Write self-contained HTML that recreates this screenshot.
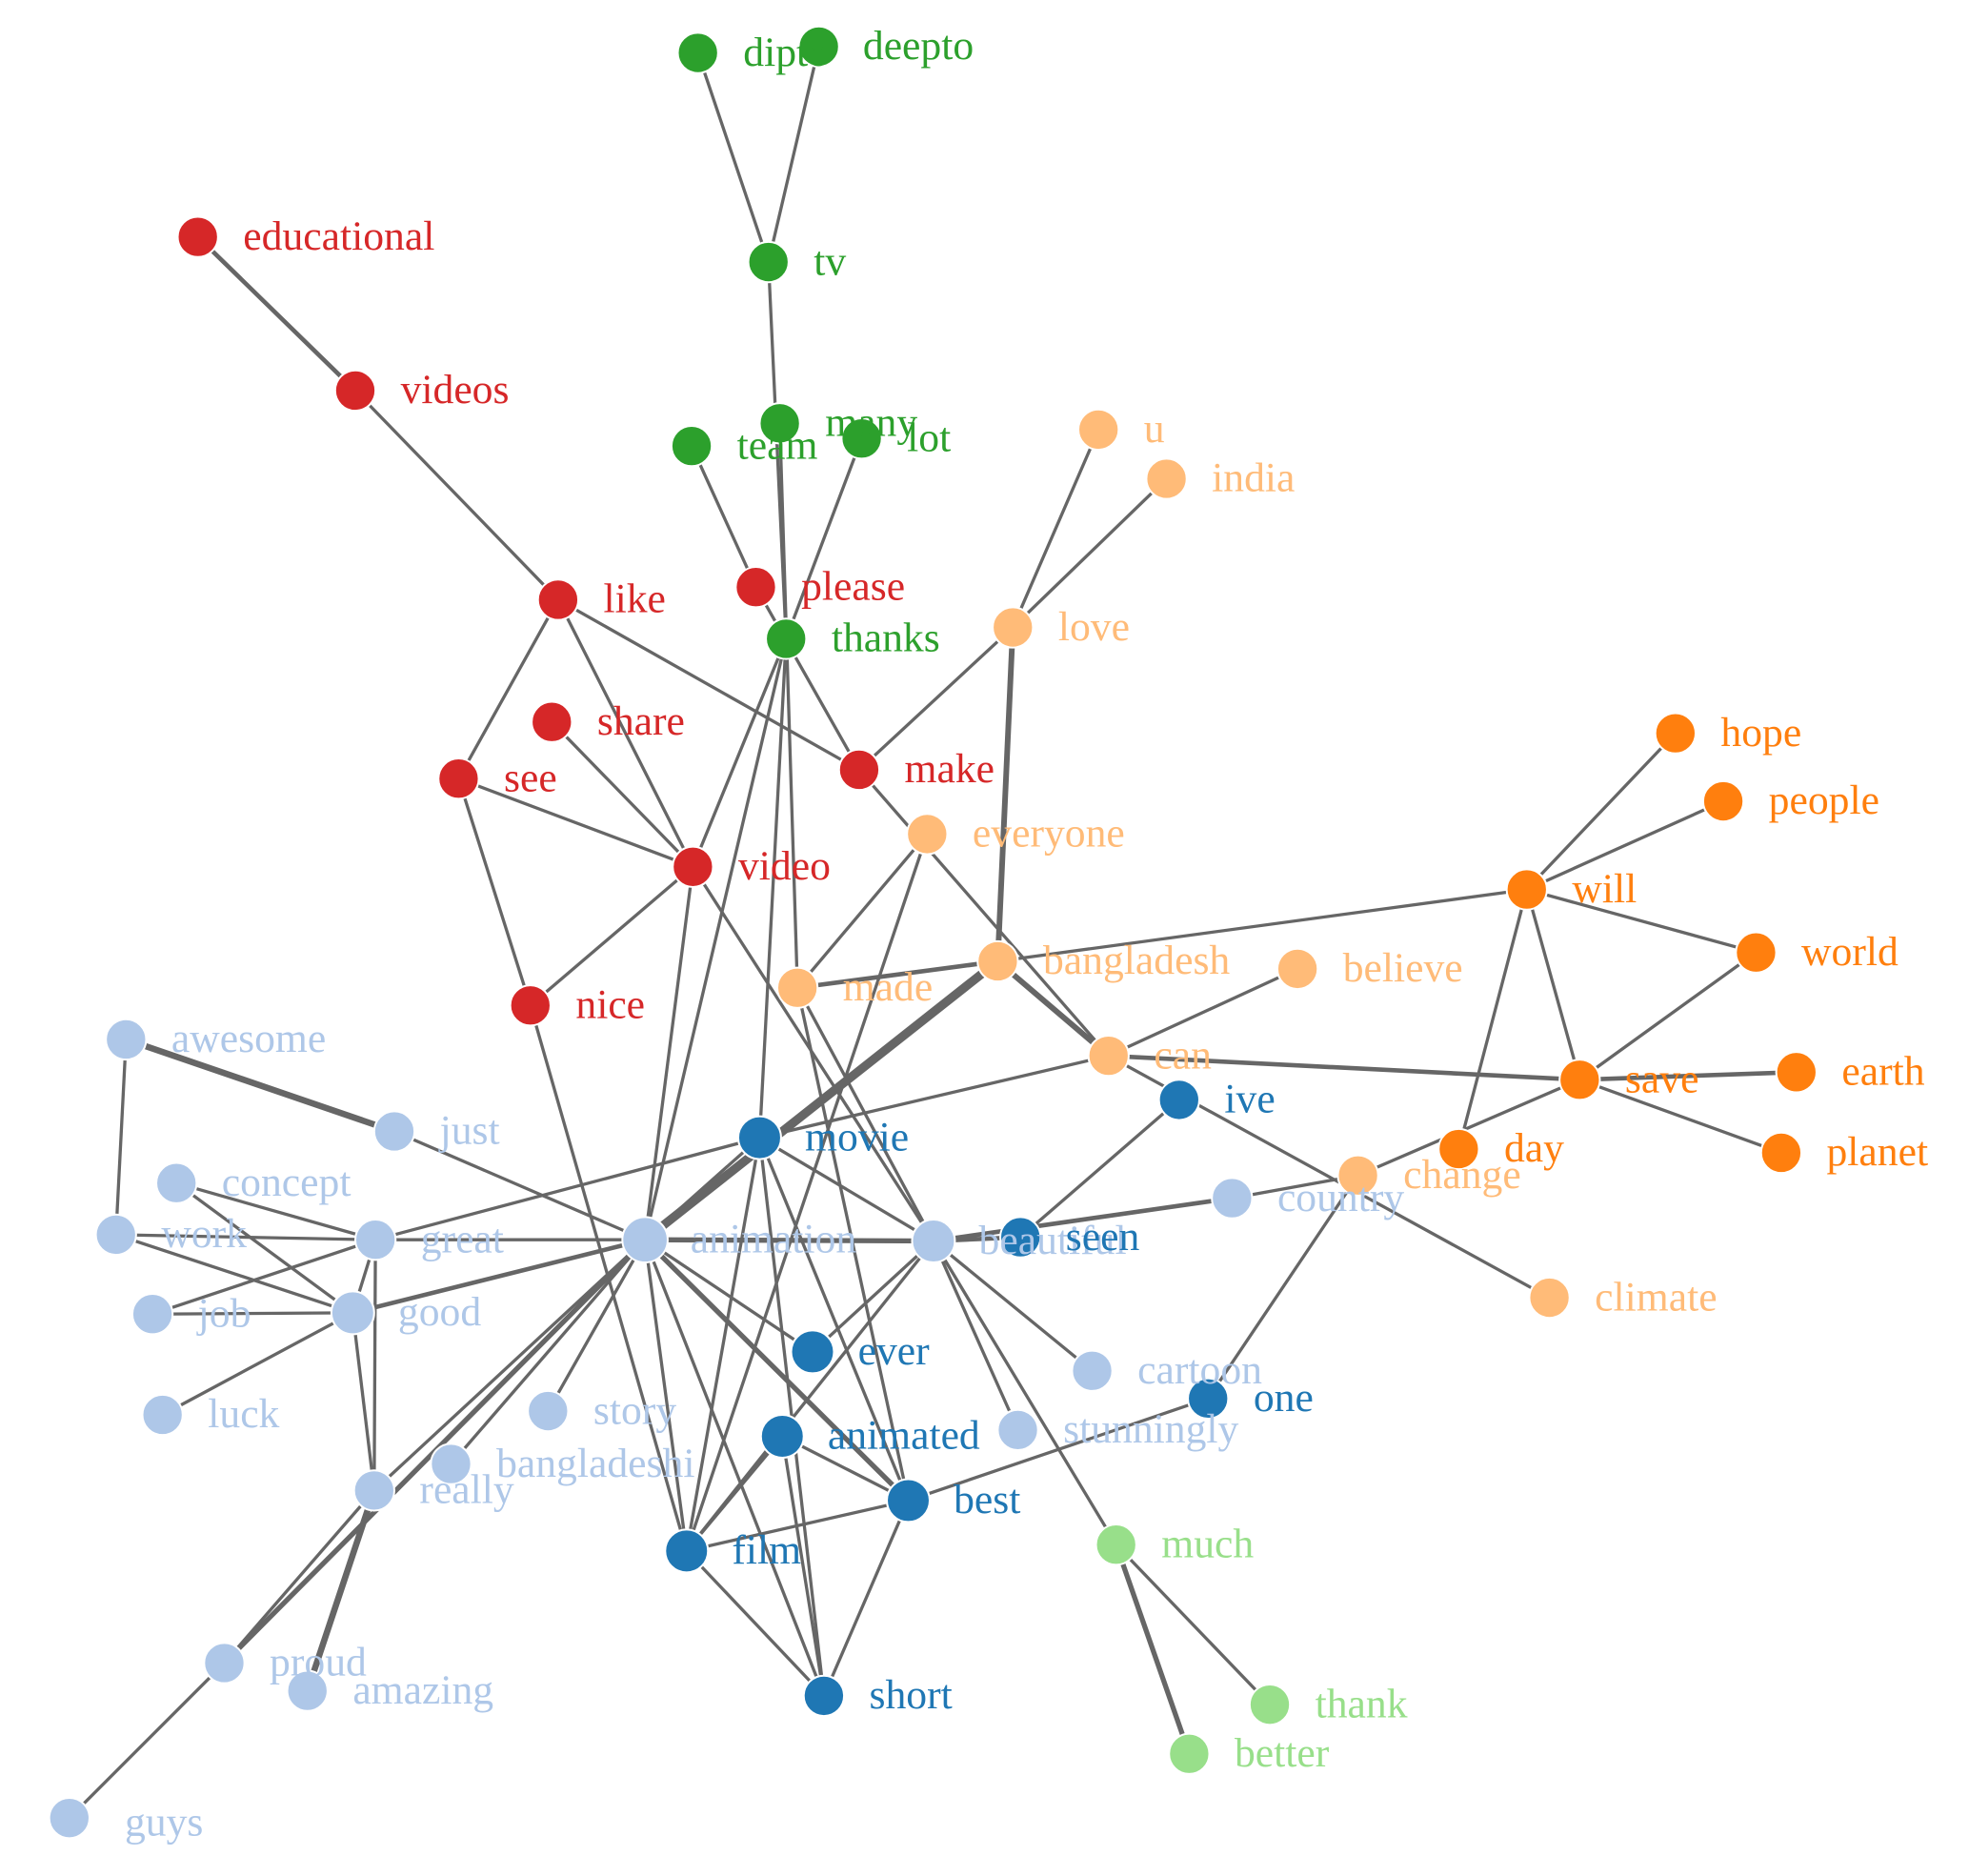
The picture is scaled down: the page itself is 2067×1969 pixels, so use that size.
<!DOCTYPE html>
<html><head><meta charset="utf-8"><style>html,body{margin:0;padding:0;background:#fff}svg{display:block}</style></head>
<body>
<svg width="2067" height="1969" viewBox="0 0 1563 1489" xmlns="http://www.w3.org/2000/svg">
<rect width="1563" height="1489" fill="#fff"/>
<g stroke="#666" stroke-width="2.5" stroke-linecap="round">
<line x1="554" y1="42" x2="610" y2="208"/>
<line x1="650" y1="37" x2="610" y2="208"/>
<line x1="610" y1="208" x2="624" y2="507"/>
<line x1="619" y1="336" x2="633" y2="784"/>
<line x1="549" y1="354" x2="600" y2="466"/>
<line x1="684" y1="348" x2="624" y2="507"/>
<line x1="600" y1="466" x2="682" y2="611"/>
<line x1="624" y1="507" x2="603" y2="903"/>
<line x1="624" y1="507" x2="512" y2="984"/>
<line x1="624" y1="507" x2="550" y2="688"/>
<line x1="157" y1="188" x2="282" y2="310" stroke-width="3.5"/>
<line x1="282" y1="310" x2="443" y2="476"/>
<line x1="443" y1="476" x2="364" y2="618"/>
<line x1="443" y1="476" x2="550" y2="688"/>
<line x1="443" y1="476" x2="682" y2="611"/>
<line x1="682" y1="611" x2="880" y2="838"/>
<line x1="438" y1="573" x2="550" y2="688"/>
<line x1="364" y1="618" x2="550" y2="688"/>
<line x1="364" y1="618" x2="421" y2="798"/>
<line x1="421" y1="798" x2="550" y2="688"/>
<line x1="550" y1="688" x2="512" y2="984"/>
<line x1="550" y1="688" x2="741" y2="985"/>
<line x1="421" y1="798" x2="545" y2="1231"/>
<line x1="804" y1="498" x2="872" y2="341"/>
<line x1="804" y1="498" x2="926" y2="380"/>
<line x1="804" y1="498" x2="682" y2="611"/>
<line x1="804" y1="498" x2="792" y2="763" stroke-width="4.5"/>
<line x1="736" y1="662" x2="633" y2="784"/>
<line x1="736" y1="662" x2="545" y2="1231"/>
<line x1="633" y1="784" x2="792" y2="763" stroke-width="3.5"/>
<line x1="633" y1="784" x2="741" y2="985"/>
<line x1="633" y1="784" x2="721" y2="1191"/>
<line x1="792" y1="763" x2="512" y2="984" stroke-width="7"/>
<line x1="792" y1="763" x2="1212" y2="706"/>
<line x1="792" y1="763" x2="880" y2="838" stroke-width="4.5"/>
<line x1="880" y1="838" x2="1030" y2="769"/>
<line x1="880" y1="838" x2="1254" y2="857" stroke-width="3.5"/>
<line x1="880" y1="838" x2="603" y2="903"/>
<line x1="880" y1="838" x2="1230" y2="1030"/>
<line x1="1212" y1="706" x2="1330" y2="582"/>
<line x1="1212" y1="706" x2="1368" y2="636"/>
<line x1="1212" y1="706" x2="1394" y2="756"/>
<line x1="1212" y1="706" x2="1254" y2="857"/>
<line x1="1212" y1="706" x2="1158" y2="912"/>
<line x1="1394" y1="756" x2="1254" y2="857"/>
<line x1="1254" y1="857" x2="1426" y2="851" stroke-width="3.5"/>
<line x1="1254" y1="857" x2="1414" y2="915"/>
<line x1="1254" y1="857" x2="1078" y2="933"/>
<line x1="1078" y1="933" x2="978" y2="951"/>
<line x1="1078" y1="933" x2="959" y2="1110"/>
<line x1="978" y1="951" x2="741" y2="985" stroke-width="3.5"/>
<line x1="936" y1="873" x2="810" y2="982"/>
<line x1="810" y1="982" x2="741" y2="985" stroke-width="3.5"/>
<line x1="741" y1="985" x2="512" y2="984" stroke-width="4"/>
<line x1="741" y1="985" x2="867" y2="1088"/>
<line x1="741" y1="985" x2="808" y2="1135"/>
<line x1="741" y1="985" x2="886" y2="1226"/>
<line x1="741" y1="985" x2="545" y2="1231"/>
<line x1="741" y1="985" x2="645" y2="1073"/>
<line x1="741" y1="985" x2="603" y2="903"/>
<line x1="603" y1="903" x2="512" y2="984"/>
<line x1="603" y1="903" x2="721" y2="1191"/>
<line x1="603" y1="903" x2="654" y2="1346"/>
<line x1="603" y1="903" x2="545" y2="1231"/>
<line x1="603" y1="903" x2="298" y2="984"/>
<line x1="512" y1="984" x2="313" y2="898"/>
<line x1="512" y1="984" x2="298" y2="984"/>
<line x1="512" y1="984" x2="280" y2="1042" stroke-width="3.5"/>
<line x1="512" y1="984" x2="435" y2="1120"/>
<line x1="512" y1="984" x2="358" y2="1162"/>
<line x1="512" y1="984" x2="178" y2="1320" stroke-width="4"/>
<line x1="512" y1="984" x2="297" y2="1183"/>
<line x1="512" y1="984" x2="545" y2="1231"/>
<line x1="512" y1="984" x2="721" y2="1191" stroke-width="4"/>
<line x1="512" y1="984" x2="645" y2="1073"/>
<line x1="512" y1="984" x2="654" y2="1346"/>
<line x1="621" y1="1140" x2="721" y2="1191"/>
<line x1="621" y1="1140" x2="654" y2="1346"/>
<line x1="621" y1="1140" x2="545" y2="1231"/>
<line x1="721" y1="1191" x2="545" y2="1231"/>
<line x1="721" y1="1191" x2="654" y2="1346"/>
<line x1="721" y1="1191" x2="959" y2="1110"/>
<line x1="545" y1="1231" x2="654" y2="1346"/>
<line x1="886" y1="1226" x2="1008" y2="1353"/>
<line x1="886" y1="1226" x2="944" y2="1392" stroke-width="4"/>
<line x1="100" y1="825" x2="313" y2="898" stroke-width="5"/>
<line x1="100" y1="825" x2="92" y2="980"/>
<line x1="92" y1="980" x2="298" y2="984"/>
<line x1="92" y1="980" x2="280" y2="1042"/>
<line x1="140" y1="939" x2="280" y2="1042"/>
<line x1="140" y1="939" x2="298" y2="984"/>
<line x1="121" y1="1043" x2="298" y2="984"/>
<line x1="121" y1="1043" x2="280" y2="1042"/>
<line x1="129" y1="1123" x2="280" y2="1042"/>
<line x1="298" y1="984" x2="280" y2="1042"/>
<line x1="298" y1="984" x2="297" y2="1183"/>
<line x1="280" y1="1042" x2="297" y2="1183"/>
<line x1="297" y1="1183" x2="244" y2="1342" stroke-width="5"/>
<line x1="297" y1="1183" x2="178" y2="1320"/>
<line x1="178" y1="1320" x2="55" y2="1443"/>
</g>
<g stroke="#fff" stroke-width="1.5">
<g fill="#2ca02c"><circle cx="554" cy="42" r="16"/><circle cx="650" cy="37" r="16"/><circle cx="610" cy="208" r="16"/><circle cx="619" cy="336" r="16"/><circle cx="549" cy="354" r="16"/><circle cx="684" cy="348" r="16"/><circle cx="624" cy="507" r="16"/></g>
<g fill="#d62728"><circle cx="157" cy="188" r="16"/><circle cx="282" cy="310" r="16"/><circle cx="443" cy="476" r="16"/><circle cx="600" cy="466" r="16"/><circle cx="438" cy="573" r="16"/><circle cx="364" cy="618" r="16"/><circle cx="682" cy="611" r="16"/><circle cx="550" cy="688" r="16"/><circle cx="421" cy="798" r="16"/></g>
<g fill="#ffbb78"><circle cx="872" cy="341" r="16"/><circle cx="926" cy="380" r="16"/><circle cx="804" cy="498" r="16"/><circle cx="736" cy="662" r="16"/><circle cx="633" cy="784" r="16"/><circle cx="792" cy="763" r="16"/><circle cx="1030" cy="769" r="16"/><circle cx="880" cy="838" r="16"/><circle cx="1078" cy="933" r="16"/><circle cx="1230" cy="1030" r="16"/></g>
<g fill="#ff7f0e"><circle cx="1330" cy="582" r="16"/><circle cx="1368" cy="636" r="16"/><circle cx="1212" cy="706" r="16"/><circle cx="1394" cy="756" r="16"/><circle cx="1254" cy="857" r="16"/><circle cx="1426" cy="851" r="16"/><circle cx="1414" cy="915" r="16"/><circle cx="1158" cy="912" r="16"/></g>
<g fill="#aec7e8"><circle cx="100" cy="825" r="16"/><circle cx="313" cy="898" r="16"/><circle cx="140" cy="939" r="16"/><circle cx="92" cy="980" r="16"/><circle cx="298" cy="984" r="16"/><circle cx="512" cy="984" r="18"/><circle cx="741" cy="985" r="17"/><circle cx="978" cy="951" r="16"/><circle cx="121" cy="1043" r="16"/><circle cx="280" cy="1042" r="17"/><circle cx="129" cy="1123" r="16"/><circle cx="435" cy="1120" r="16"/><circle cx="867" cy="1088" r="16"/><circle cx="808" cy="1135" r="16"/><circle cx="358" cy="1162" r="16"/><circle cx="297" cy="1183" r="16"/><circle cx="178" cy="1320" r="16"/><circle cx="244" cy="1342" r="16"/><circle cx="55" cy="1443" r="16"/></g>
<g fill="#1f77b4"><circle cx="603" cy="903" r="17"/><circle cx="936" cy="873" r="16"/><circle cx="810" cy="982" r="16"/><circle cx="645" cy="1073" r="17"/><circle cx="621" cy="1140" r="17"/><circle cx="721" cy="1191" r="17"/><circle cx="545" cy="1231" r="17"/><circle cx="654" cy="1346" r="16"/><circle cx="959" cy="1110" r="16"/></g>
<g fill="#98df8a"><circle cx="886" cy="1226" r="16"/><circle cx="1008" cy="1353" r="16"/><circle cx="944" cy="1392" r="16"/></g>
</g>
<g font-family="Liberation Serif, serif" font-size="33">
<g fill="#2ca02c"><text x="590" y="52">dipto</text><text x="685" y="47">deepto</text><text x="646" y="218">tv</text><text x="655" y="346">many</text><text x="585" y="364">team</text><text x="720" y="358">lot</text><text x="660" y="517">thanks</text></g>
<g fill="#d62728"><text x="193" y="198">educational</text><text x="318" y="320">videos</text><text x="479" y="486">like</text><text x="636" y="476">please</text><text x="474" y="583">share</text><text x="400" y="628">see</text><text x="718" y="621">make</text><text x="586" y="698">video</text><text x="457" y="808">nice</text></g>
<g fill="#ffbb78"><text x="908" y="351">u</text><text x="962" y="390">india</text><text x="840" y="508">love</text><text x="772" y="672">everyone</text><text x="669" y="794">made</text><text x="828" y="773">bangladesh</text><text x="1066" y="779">believe</text><text x="916" y="848">can</text><text x="1114" y="943">change</text><text x="1266" y="1040">climate</text></g>
<g fill="#ff7f0e"><text x="1366" y="592">hope</text><text x="1404" y="646">people</text><text x="1248" y="716">will</text><text x="1430" y="766">world</text><text x="1290" y="867">save</text><text x="1462" y="861">earth</text><text x="1450" y="925">planet</text><text x="1194" y="922">day</text></g>
<g fill="#aec7e8"><text x="136" y="835">awesome</text><text x="349" y="908">just</text><text x="176" y="949">concept</text><text x="128" y="990">work</text><text x="334" y="994">great</text><text x="548" y="994">animation</text><text x="777" y="995">beautiful</text><text x="1014" y="961">country</text><text x="157" y="1053">job</text><text x="316" y="1052">good</text><text x="165" y="1133">luck</text><text x="471" y="1130">story</text><text x="903" y="1098">cartoon</text><text x="844" y="1145">stunningly</text><text x="394" y="1172">bangladeshi</text><text x="333" y="1193">really</text><text x="214" y="1330">proud</text><text x="280" y="1352">amazing</text><text x="99" y="1457">guys</text></g>
<g fill="#1f77b4"><text x="639" y="913">movie</text><text x="972" y="883">ive</text><text x="846" y="992">seen</text><text x="681" y="1083">ever</text><text x="657" y="1150">animated</text><text x="757" y="1201">best</text><text x="581" y="1241">film</text><text x="690" y="1356">short</text><text x="995" y="1120">one</text></g>
<g fill="#98df8a"><text x="922" y="1236">much</text><text x="1044" y="1363">thank</text><text x="980" y="1402">better</text></g>
</g>
</svg>
</body></html>
